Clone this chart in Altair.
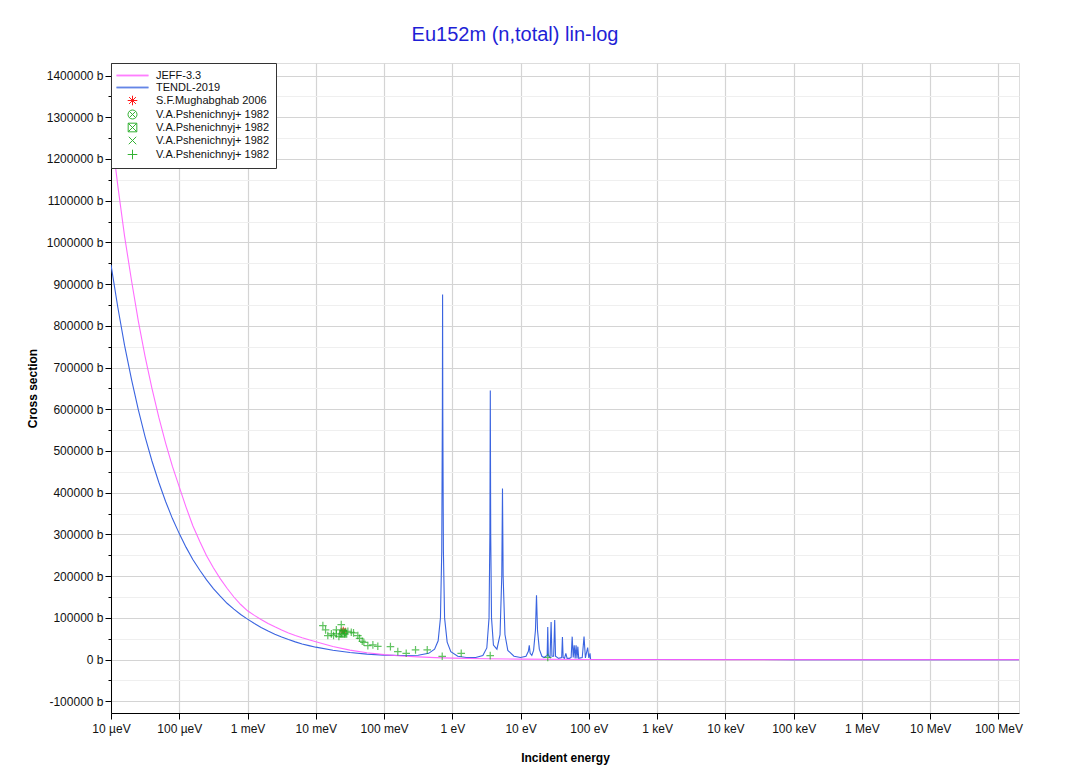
import altair as alt
import pandas as pd

TITLE = "Eu152m (n,total) lin-log"
FONT = "Liberation Sans"

# ---- series labels (suffix after '#' keeps legend entries unique) ----
SERIES = [
    "JEFF-3.3",
    "TENDL-2019",
    "S.F.Mughabghab 2006",
    "V.A.Pshenichnyj+ 1982#1",
    "V.A.Pshenichnyj+ 1982#2",
    "V.A.Pshenichnyj+ 1982#3",
    "V.A.Pshenichnyj+ 1982#4",
]
COLORS = ["#ff5cff", "#3a64e0", "#ff0000", "#1faa1f", "#1faa1f", "#1faa1f", "#1faa1f"]
SHAPES = [
    "M-2.67,-0.06L2.67,-0.06M-2.67,0.06L2.67,0.06",
    "M-2.67,-0.06L2.67,-0.06M-2.67,0.06L2.67,0.06",
    "M-0.8,0L0.8,0M0,-0.8L0,0.8M-0.57,-0.57L0.57,0.57M-0.57,0.57L0.57,-0.57",
    "M-0.75,0A0.75,0.75,0,1,1,0.75,0A0.75,0.75,0,1,1,-0.75,0ZM-0.53,-0.53L0.53,0.53M-0.53,0.53L0.53,-0.53",
    "M-0.72,-0.72L0.72,-0.72L0.72,0.72L-0.72,0.72ZM-0.72,-0.72L0.72,0.72M-0.72,0.72L0.72,-0.72",
    "M-0.62,-0.62L0.62,0.62M-0.62,0.62L0.62,-0.62",
    "M-0.8,0L0.8,0M0,-0.8L0,0.8",
]

# ---- JEFF-3.3 (energy in eV, cross section in b) ----
JEFF_E = [1e-5, 1.26e-5, 1.58e-5, 2.0e-5, 2.51e-5, 3.16e-5, 3.98e-5, 5.01e-5, 6.31e-5, 7.94e-5,
          1e-4, 1.26e-4, 1.58e-4, 2.0e-4, 2.51e-4, 3.16e-4, 3.98e-4, 5.01e-4, 6.31e-4, 7.94e-4,
          1e-3, 1.26e-3, 1.58e-3, 2.0e-3, 2.51e-3, 3.16e-3, 3.98e-3, 5.01e-3, 6.31e-3, 7.94e-3,
          1e-2, 1.78e-2, 3.16e-2, 5.62e-2,
          0.1, 0.178, 0.316, 0.562, 1.0, 3.16, 10, 100, 1e3, 1e4, 1e5, 1e6, 1e7, 1e8, 2e8]
JEFF_XS = [1270000, 1135000, 1015000, 908000, 812000, 726000, 650000, 581000, 519000, 463000,
           414000, 365000, 321000, 283000, 249000, 220000, 194000, 171000, 150000, 132000,
           117000, 106000, 96000, 86500, 78500, 71000, 64000, 58000, 52500, 47500,
           43000, 31200, 22700, 16500,
           12000, 8800, 6500, 4800, 3500, 1900, 1100, 350, 110, 40, 18, 8, 5, 4, 4]

# ---- TENDL-2019 ----
TENDL_E = [1e-5, 1.26e-5, 1.58e-5, 2.0e-5, 2.51e-5, 3.16e-5, 3.98e-5, 5.01e-5, 6.31e-5, 7.94e-5,
           1e-4, 1.26e-4, 1.58e-4, 2.0e-4, 2.51e-4, 3.16e-4, 3.98e-4, 5.01e-4, 6.31e-4, 7.94e-4,
           1e-3, 1.26e-3, 1.58e-3, 2.0e-3, 2.51e-3, 3.16e-3, 3.98e-3, 5.01e-3, 6.31e-3, 7.94e-3,
           1e-2, 1.78e-2, 3.16e-2, 5.62e-2,
           0.1, 0.178, 0.316, 0.45, 0.55, 0.62, 0.67, 0.70, 0.715, 0.72, 0.725,
           0.74, 0.77, 0.84, 0.95, 1.2, 1.6, 2.2, 2.8, 3.2, 3.45, 3.55, 3.6,
           3.65, 3.75, 4.0, 4.5, 5.0, 5.3, 5.43, 5.55, 5.9, 6.5, 8.0, 10.0,
           12.0, 13.0, 13.4, 13.8, 14.6, 15.5, 16.5, 17.1, 17.7, 18.8, 20.5,
           22.0, 24.5, 25.0, 25.5, 27.0, 28.0, 28.8, 30.5, 31.6, 32.5, 36.0,
           40.0, 41.0, 42.0, 44.0, 46.0, 48.0, 52.0, 55.0, 57.0, 59.0, 61.0,
           63.0, 65.0, 67.0, 69.0, 71.0, 80.0, 85.0, 89.0, 96.0, 100.0, 104.0,
           106.0, 1e3, 1e4, 1e5, 1e6, 1e7, 1e8, 2e8]
TENDL_XS = [946000, 844000, 753000, 671000, 599000, 534000, 476000, 425000, 379000, 338000,
            302000, 269000, 240000, 214000, 191000, 170000, 152000, 135000, 121000, 108000,
            97000, 86500, 77000, 68500, 61000, 54000, 48000, 42500, 37500, 33500,
            29800, 22500, 17000, 13200,
            10800, 9800, 10500, 15000, 25000, 45000, 100000, 260000, 600000, 875000, 600000,
            260000, 100000, 42000, 19000, 8000, 5000, 5000, 10000, 28000, 100000, 300000, 645000,
            300000, 100000, 35000, 25000, 60000, 200000, 410000, 200000, 60000, 22000, 8000, 5000,
            8000, 20000, 34000, 15000, 10000, 22000, 70000, 154000, 70000, 25000, 8000,
            5000, 10000, 78000, 10000, 5000, 90000, 8000, 8000, 95000, 8000, 3000,
            5000, 54000, 5000, 3000, 15000, 3000, 3000, 5000, 55000, 5000, 34000,
            3000, 34000, 3000, 31000, 3000, 5000, 55000, 4000, 29000, 4000, 15000,
            1000, 400, 150, 30, 10, 6, 5, 5]

# ---- experimental points ----
MUG_E = [0.0253]
MUG_XS = [69600]
PSH1_E = [0.0253]
PSH1_XS = [65000]
PSH2_E = [0.0253]
PSH2_XS = [62000]
PSH3_E = [0.0253]
PSH3_XS = [67000]
PSH4_E = [0.0127, 0.0139, 0.0150, 0.0169, 0.0182, 0.0200, 0.0200, 0.0218, 0.0236,
          0.0263, 0.0295, 0.0331, 0.0357, 0.0413, 0.0438, 0.0479, 0.0506, 0.0579,
          0.0686, 0.0810, 0.124, 0.159, 0.211, 0.289, 0.429, 0.711, 1.35, 3.59, 25.0]
PSH4_XS = [81600, 71300, 57600, 61700, 57600, 71300, 61700, 55200, 84000,
           62000, 68000, 65500, 64000, 57600, 51000, 44000, 41500, 33600,
           35300, 31900, 31200, 19200, 15100, 23300, 23300, 7900, 15100, 9600, 5000]

# ---- axes ticks ----
X_TICKS = [1e-5, 1e-4, 1e-3, 1e-2, 1e-1, 1, 10, 100, 1e3, 1e4, 1e5, 1e6, 1e7, 1e8]
X_LABELS = ["10 µeV", "100 µeV", "1 meV", "10 meV", "100 meV", "1 eV", "10 eV",
            "100 eV", "1 keV", "10 keV", "100 keV", "1 MeV", "10 MeV", "100 MeV"]
Y_TICKS = list(range(-100000, 1400001, 50000))

jeff = pd.DataFrame({"E": JEFF_E, "xs": JEFF_XS, "series": SERIES[0]})
tendl = pd.DataFrame({"E": TENDL_E, "xs": TENDL_XS, "series": SERIES[1]})
pts = pd.concat([
    pd.DataFrame({"E": MUG_E, "xs": MUG_XS, "series": SERIES[2]}),
    pd.DataFrame({"E": PSH1_E, "xs": PSH1_XS, "series": SERIES[3]}),
    pd.DataFrame({"E": PSH2_E, "xs": PSH2_XS, "series": SERIES[4]}),
    pd.DataFrame({"E": PSH3_E, "xs": PSH3_XS, "series": SERIES[5]}),
    pd.DataFrame({"E": PSH4_E, "xs": PSH4_XS, "series": SERIES[6]}),
], ignore_index=True)

x_scale = alt.Scale(type="log", domain=[1e-5, 2e8], nice=False)
y_scale = alt.Scale(domain=[-128000, 1430000], nice=False, zero=False)

label_array = "[" + ",".join("'" + s + "'" for s in X_LABELS) + "]"
x_axis = alt.Axis(
    values=X_TICKS,
    labelExpr=label_array + "[round(log(datum.value)/LN10)+5]",
    title="Incident energy", titleFont=FONT, titleFontSize=12, titleFontWeight="bold",
    titlePadding=18, labelFont=FONT, labelFontSize=12, labelColor="#111",
    labelPadding=4, tickSize=6, tickColor="#000", domainColor="#000",
    grid=True, gridColor="#d4d4d4", gridWidth=1.2, labelFlush=False, labelOverlap=False,
)
y_axis = alt.Axis(
    values=Y_TICKS,
    labelExpr="datum.value % 100000 == 0 ? datum.value + ' b' : ''",
    title="Cross section", titleFont=FONT, titleFontSize=12, titleFontWeight="bold",
    titlePadding=7, labelFont=FONT, labelFontSize=12, labelColor="#111",
    labelPadding=2, tickColor="#000", domainColor="#000",
    tickSize={"condition": {"test": "datum.value % 100000 != 0", "value": 3}, "value": 6},
    grid=True,
    gridColor={"condition": {"test": "datum.value % 100000 != 0", "value": "#efefef"},
               "value": "#d4d4d4"},
    labelOverlap=False,
)

legend = alt.Legend(
    title=None, orient="top-left", offset=0, padding=6,
    fillColor="white", strokeColor="#333",
    labelFont=FONT, labelFontSize=11, labelColor="#111",
    labelExpr="split(datum.label, '#')[0]",
    symbolSize=144, symbolStrokeWidth=1.0, symbolOffset=9, labelOffset=17,
    rowPadding=0, symbolFillColor="transparent",
)
color = alt.Color("series:N", scale=alt.Scale(domain=SERIES, range=COLORS), legend=legend)
shape = alt.Shape("series:N", scale=alt.Scale(domain=SERIES, range=SHAPES), legend=legend)

X = alt.X("E:Q", scale=x_scale, axis=x_axis)
Y = alt.Y("xs:Q", scale=y_scale, axis=y_axis)

tendl_layer = alt.Chart(tendl).mark_line(strokeWidth=1.1, clip=True).encode(x=X, y=Y, color=color)
jeff_layer = alt.Chart(jeff).mark_line(strokeWidth=1.1, clip=True, opacity=0.9).encode(x=X, y=Y, color=color)
pts_layer = alt.Chart(pts).mark_point(filled=False, size=90, strokeWidth=1.2, clip=True).encode(
    x=X, y=Y, color=color, shape=shape)

chart = alt.layer(tendl_layer, jeff_layer, pts_layer).properties(
    width=908, height=650,
    autosize=alt.AutoSizeParams(type="none"),
    padding={"left": 103, "top": 55, "right": 40, "bottom": 52},
    title=alt.TitleParams(TITLE, color="#1f1fd6", fontSize=20, font=FONT,
                          fontWeight="normal", anchor="middle", dx=-50, offset=18),
).configure_view(stroke="#000", strokeWidth=1.2).configure(background="white")

chart.save("out.html", embed_options={"renderer": "svg", "actions": False})
